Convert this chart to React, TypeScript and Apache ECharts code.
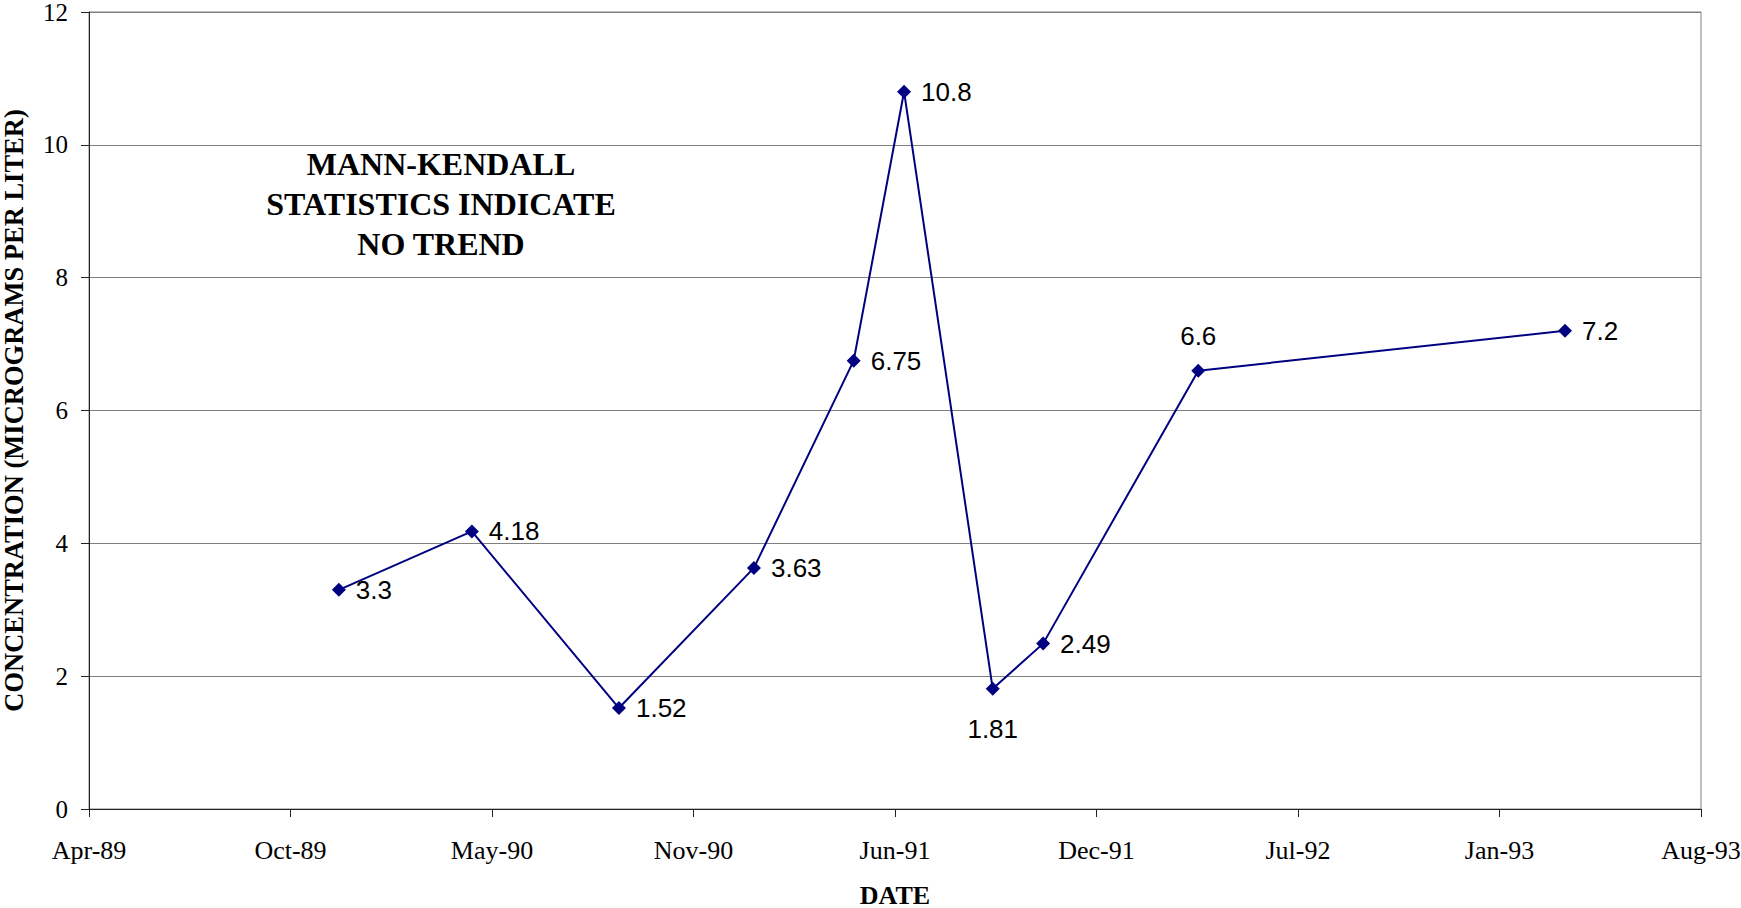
import React, { useEffect, useRef } from "react";
import * as echarts from "echarts";

const sampleDates = [
  "1989-12-06",
  "1990-04-17",
  "1990-09-10",
  "1991-01-22",
  "1991-05-01",
  "1991-06-20",
  "1991-09-16",
  "1991-11-05",
  "1992-04-07",
  "1993-04-06",
];
const concentrations = [3.3, 4.18, 1.52, 3.63, 6.75, 10.8, 1.81, 2.49, 6.6, 7.2];
const labelPositions = ["right", "right", "right", "right", "right", "right", "bottom", "right", "top", "right"];

const axisStartDate = "1989-04-02";
const axisSpanDays = 1600;
const tickStepDays = 200;
const monthNames = ["Jan", "Feb", "Mar", "Apr", "May", "Jun", "Jul", "Aug", "Sep", "Oct", "Nov", "Dec"];

const DAY = 86400000;
const startMs = Date.parse(axisStartDate + "T00:00:00Z");
const toDays = (s: string) => (Date.parse(s + "T00:00:00Z") - startMs) / DAY;
const fmtDay = (d: number) => {
  const dt = new Date(startMs + d * DAY);
  const yy = String(dt.getUTCFullYear() % 100).padStart(2, "0");
  return monthNames[dt.getUTCMonth()] + "-" + yy;
};

export default function App() {
  const ref = useRef<HTMLDivElement>(null);
  useEffect(() => {
    if (!ref.current) return;
    const chart = echarts.init(ref.current, undefined, { renderer: "svg" });
    const serif = '"Liberation Serif", "Times New Roman", serif';
    const sans = '"Liberation Sans", Arial, sans-serif';
    const data = sampleDates.map((d, i) => {
      const pos = labelPositions[i];
      return {
        value: [toDays(d), concentrations[i]],
        label: {
          position: pos,
          distance: pos === "right" ? 10 : pos === "bottom" ? 20 : 15,
        },
      };
    });
    chart.setOption({
      animation: false,
      backgroundColor: "#ffffff",
      grid: {
        left: 89,
        top: 12,
        right: 40,
        bottom: 99,
        show: true,
        borderColor: "#808080",
        borderWidth: 1,
        containLabel: false,
        outerBoundsMode: "none",
      },
      xAxis: {
        type: "value",
        min: 0,
        max: axisSpanDays,
        interval: tickStepDays,
        name: "DATE",
        nameLocation: "middle",
        nameGap: 74,
        nameTextStyle: { fontFamily: serif, fontWeight: "bold", fontSize: 26, lineHeight: 24, color: "#000" },
        axisLine: { show: true, lineStyle: { color: "#222", width: 1 } },
        axisTick: { show: true, length: 8, lineStyle: { color: "#222" } },
        axisLabel: {
          formatter: (v: number) => fmtDay(v),
          fontFamily: serif,
          fontSize: 26,
          color: "#000",
          margin: 28,
          showMinLabel: true,
          showMaxLabel: true,
        },
        splitLine: { show: false },
      },
      yAxis: {
        type: "value",
        min: 0,
        max: 12,
        interval: 2,
        name: "CONCENTRATION (MICROGRAMS PER LITER)",
        nameLocation: "middle",
        nameGap: 63,
        nameTextStyle: { fontFamily: serif, fontWeight: "bold", fontSize: 26.5, lineHeight: 24, color: "#000" },
        axisLine: { show: true, lineStyle: { color: "#222", width: 1 } },
        axisTick: { show: true, length: 8, lineStyle: { color: "#222" } },
        axisLabel: { fontFamily: serif, fontSize: 25, lineHeight: 18, color: "#000", margin: 21 },
        splitLine: { show: true, lineStyle: { color: "#808080", width: 1 } },
      },
      series: [
        {
          type: "line",
          data,
          symbol: "diamond",
          symbolSize: 14,
          itemStyle: { color: "#000080" },
          lineStyle: { color: "#000080", width: 2 },
          label: {
            show: true,
            formatter: (p: any) => String(p.value[1]),
            fontFamily: sans,
            fontSize: 26,
            color: "#000",
          },
        },
      ],
      graphic: [
        {
          type: "text",
          x: 441,
          y: 144,
          style: {
            text: "MANN-KENDALL\nSTATISTICS INDICATE\nNO TREND",
            font: 'bold 32px "Liberation Serif", "Times New Roman", serif',
            textAlign: "center",
            lineHeight: 40,
            fill: "#000",
          },
        },
      ],
    });
    return () => chart.dispose();
  }, []);
  return (
    <div
      ref={ref}
      style={{ position: "fixed", left: 0, top: 0, width: "1741px", height: "908px" }}
    />
  );
}
